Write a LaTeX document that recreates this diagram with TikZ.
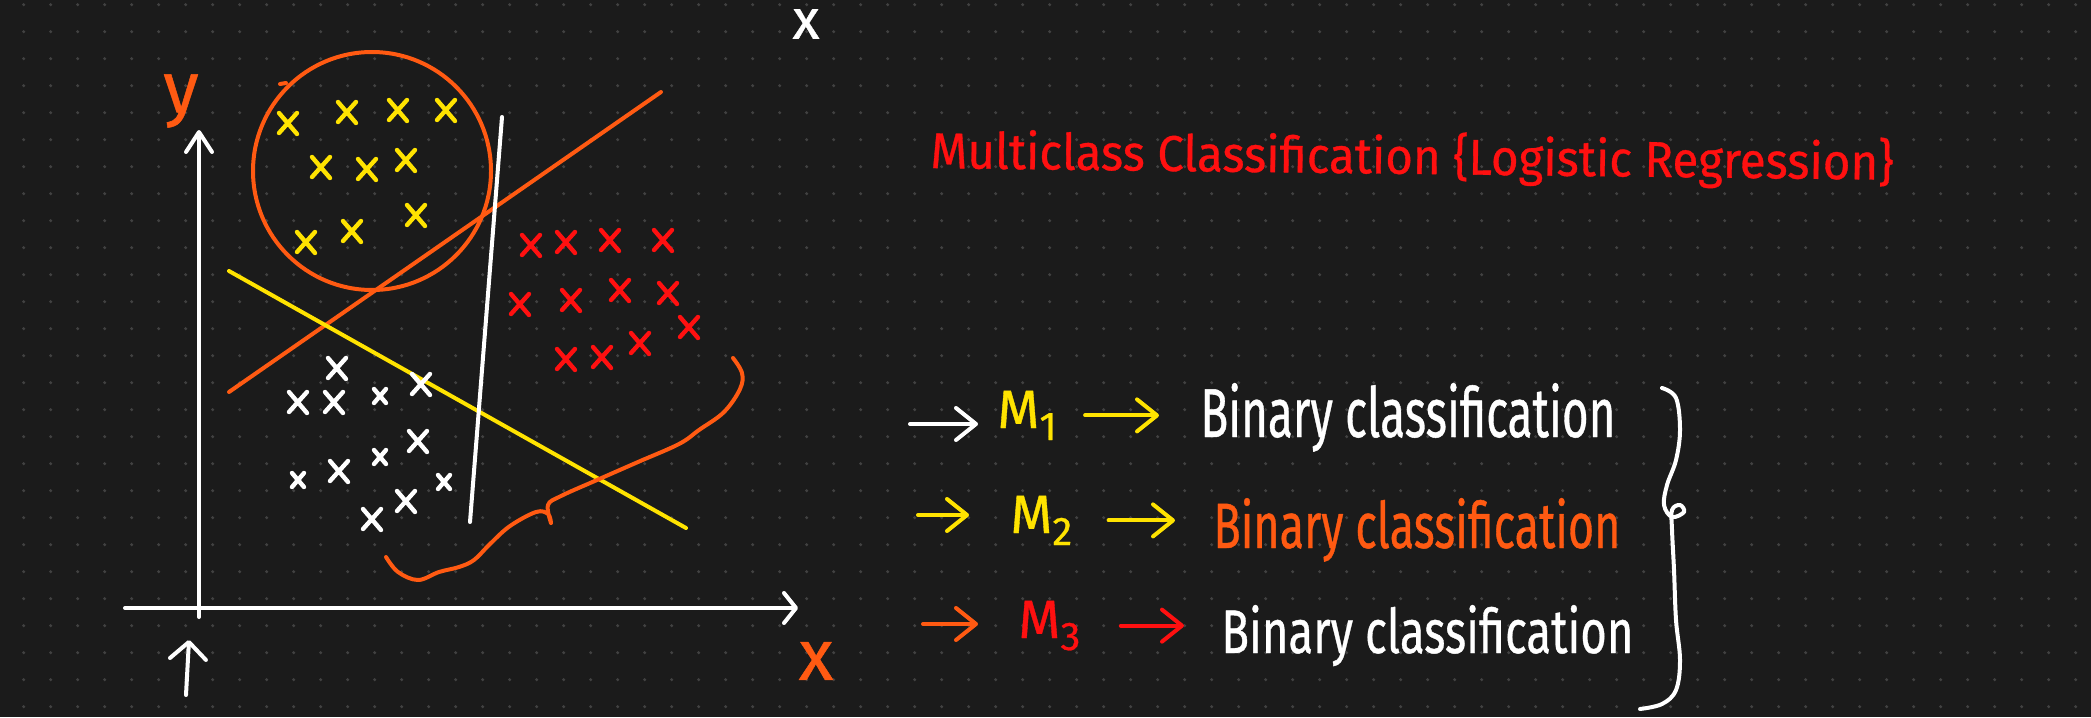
\documentclass[tikz,border=0pt]{standalone}
\usepackage{fontspec}
\setmainfont{Fira Sans}
\newfontface\hwface{Fira Sans}[FakeBold=0.7]
\usetikzlibrary{arrows.meta}
\definecolor{bg}{HTML}{1B1B1B}
\definecolor{dotc}{HTML}{414141}
\definecolor{ylw}{HTML}{FFE300}
\definecolor{org}{HTML}{FF5A12}
\definecolor{rd}{HTML}{FF1010}
\definecolor{wht}{HTML}{FFFFFF}
\newcommand\lowdig[1]{\raisebox{-6pt}{\fontsize{20}{20}\selectfont #1}}
\begin{document}
\begin{tikzpicture}[x=0.5pt,y=-0.5pt,line cap=round,line join=round,
  pen/.style={line width=2pt},
  xm/.pic={\draw[line width=2.2pt] (-9,-10)--(9,11) (-9,10)--(9,-10);},
  xs/.pic={\draw[line width=2.2pt] (-6,-7)--(6,7) (-6,7)--(6,-7);},
  tip/.style={pen,-{Straight Barb[length=10pt,width=16pt,round]}},
  mlab/.style={inner sep=0,anchor=base west,font=\hwface\fontsize{27}{27}\selectfont},
  blab/.style={inner sep=0,anchor=base west,font=\hwface\fontsize{30}{30}\selectfont},
  axlab/.style={inner sep=0}]
\useasboundingbox (0,0) rectangle (2091,717);
\fill[bg] (0,0) rectangle (2091,717);
% dot grid
\foreach \i in {0,...,76}{\foreach \j in {0,...,26}{
  \fill[dotc] (23.7+27*\i,4.7+27*\j) circle[radius=0.85pt];}}
% axes
\draw[wht,pen,-{Straight Barb[length=10pt,width=13pt,round]}] (199,617) -- (199,130);
\draw[wht,pen,-{Straight Barb[length=6pt,width=15pt,round]}] (125,608) -- (798,608);
\draw[wht,pen,-{Straight Barb[length=8.5pt,width=18pt,round]}] (186,695) -- (189,640);
% axis labels
\node[axlab,org,font=\hwface\fontsize{36}{36}\selectfont] (ylab) at (181,101) {y};
\node[axlab,org,font=\hwface\fontsize{36}{36}\selectfont] (xlab) at (816,661) {x};
\node[axlab,wht,font=\hwface\fontsize{28}{28}\selectfont] (xtop) at (806,24) {x};
% circle and lines
\draw[org,pen] (372,171) circle[radius=119];
\draw[org,pen] (280,84) -- (286,83);
\draw[org,pen] (229,392) -- (661,92);
\draw[ylw,pen] (229,271) -- (686,528);
\draw[wht,pen] (502,117) -- (470,522);
% orange brace in plot
\draw[org,pen] plot[smooth,tension=0.6] coordinates {(386,557) (398,572) (418,580) (439,572) (459,567) (474,560) (490,544) (510,526) (536,512) (548,514) (551,523)}
  plot[smooth,tension=0.6] coordinates {(551,523) (548,505) (561,496) (597,480) (638,462) (679,444) (699,430) (724,412) (740,389) (742,373) (733,358)};
% yellow crosses
\foreach \p in {(288,123),(347,112),(398,110),(446,110),(321,167),(367,169),(406,160),(306,242),(352,231),(416,215)}
  \pic[ylw] at \p {xm};
% red crosses
\foreach \p in {(531,245),(566,242),(610,240),(663,240),(520,304),(571,300),(620,290),(668,293),(566,359),(602,357),(640,343),(689,327)}
  \pic[rd] at \p {xm};
% white crosses
\foreach \p in {(337,368),(298,402),(334,402),(421,384),(418,441),(339,471),(406,501),(372,519)}
  \pic[wht] at \p {xm};
\foreach \p in {(380,396),(298,480),(380,457),(444,482)}
  \pic[wht] at \p {xs};
% title
\node[inner sep=0,anchor=base west,rd,rotate=-0.7,font=\hwface\fontsize{30}{30}\selectfont] (title) at (930,168)
  {\resizebox{481.5pt}{21pt}{Multiclass Classification \{Logistic Regression\}}};
% list
\coordinate (s1) at (910,424);
\coordinate (s2) at (918,515);
\coordinate (s3) at (923,624);
\node[mlab,ylw] (m1) at (997,428) {M\lowdig{1}};
\node[mlab,ylw] (m2) at (1010,533) {M\lowdig{2}};
\node[mlab,rd] (m3) at (1018,638) {M\lowdig{3}};
\node[blab,wht] (b1) at (1200,437) {\resizebox{207.5pt}{27pt}{Binary classification}};
\node[blab,org] (b2) at (1213,548) {\resizebox{203.5pt}{25pt}{Binary classification}};
\node[blab,wht] (b3) at (1221,653) {\resizebox{206pt}{24pt}{Binary classification}};
\draw[tip,wht,shorten >=9.5pt] (s1) -- (s1 -| m1.west);
\draw[tip,ylw,shorten >=20.5pt] (s2) -- (s2 -| m2.west);
\draw[tip,org,shorten >=20pt] (s3) -- (s3 -| m3.west);
\draw[tip,ylw,shorten <=14pt,shorten >=20.5pt] (m1.east) -- (m1.east -| b1.west);
\draw[tip,ylw,shorten <=18pt,shorten >=19pt] (m2.east) -- (m2.east -| b2.west);
\draw[tip,rd,shorten <=20pt,shorten >=18.5pt] (m3.east) -- (m3.east -| b3.west);
% right brace
\draw[wht,pen] plot[smooth,tension=0.6] coordinates {(1662,388) (1676,398) (1680,430) (1676,460) (1667,485) (1664,505) (1672,517) (1684,512) (1680,505) (1672,510) (1672,530) (1674,570) (1676,620) (1680,660) (1676,690) (1662,704) (1640,709)};
\end{tikzpicture}
\end{document}
